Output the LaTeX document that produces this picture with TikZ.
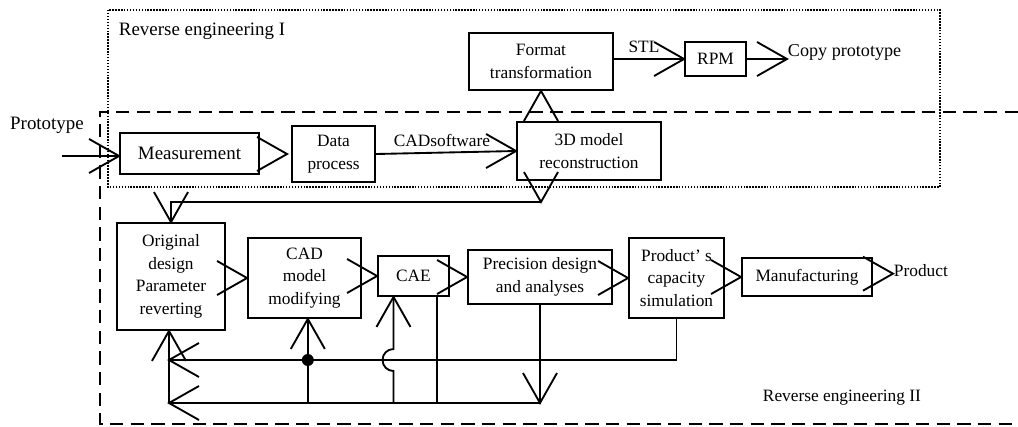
\documentclass[tikz,border=0pt]{standalone}
\usepackage{fontspec}
\setmainfont{Liberation Serif}
\def\px{0.75pt}
\newcommand\myfs{\fontsize{13pt}{17pt}\selectfont}
\newcommand\myfb{\fontsize{14.2pt}{17pt}\selectfont}
\begin{document}
\begin{tikzpicture}[x=0.75pt,y=-0.75pt, line width=1.4pt,
  box/.style={draw, rectangle, inner sep=0pt, align=center, font=\myfs},
  lbl/.style={inner sep=0pt, font=\myfs},
  frameI/.style={line width=1.1pt, dash pattern=on 1.1pt off 1.1pt},
  frameII/.style={line width=1.5pt, dash pattern=on 10pt off 5.5pt},
  pics/arrv/.style={code={\draw[line join=miter] (-30,-17) -- (0,0) -- (-30,17);}}
]
\useasboundingbox (0,0) rectangle (1018,426);

% frames
\draw[frameI] (108,10) rectangle (940,187);
\draw[frameII] (1018,112) -- (100,112) -- (100,424) -- (1018,424);

% labels
\node[lbl, font=\myfb, anchor=west] (re1) at (118,31) {Reverse engineering I};
\node[lbl, anchor=west] (re2) at (762,398) {Reverse engineering II};
\node[lbl, font=\myfb] (proto) at (47,125) {Prototype};

% boxes
\node[box, font=\myfb, minimum width=139*\px, minimum height=41*\px] (meas) at (189.5,153.5) {Measurement};
\node[box, minimum width=83*\px, minimum height=56*\px] (data) at (333.5,154) {Data\\process};
\node[box, minimum width=144*\px, minimum height=58*\px] (recon) at (589,151) {3D model\\reconstruction};
\node[box, minimum width=144*\px, minimum height=57*\px] (format) at (541,61.5) {Format\\transformation};
\node[box, minimum width=61*\px, minimum height=34*\px] (rpm) at (715.5,59) {RPM};
\node[box, minimum width=108*\px, minimum height=107*\px] (orig) at (171,276.5) {Original\\design\\Parameter\\reverting};
\node[box, minimum width=113*\px, minimum height=80*\px] (cad) at (304.5,278) {CAD\\model\\modifying};
\node[box, minimum width=71*\px, minimum height=40*\px] (cae) at (413.5,276) {CAE};
\node[box, minimum width=144*\px, minimum height=54*\px] (prec) at (540,277) {Precision design\\and analyses};
\node[box, minimum width=95*\px, minimum height=80*\px] (cap) at (676.5,278) {Product’ s\\capacity\\simulation};
\node[box, minimum width=130*\px, minimum height=38*\px] (manu) at (807,277) {Manufacturing};

\node[lbl] (cadsw) at (442,140) {CADsoftware};
\node[lbl] (stl) at (644,47) {STL};
\node[lbl, font=\fontsize{13.6pt}{17pt}\selectfont, anchor=west] (copy) at (787,52) {Copy prototype};
\node[lbl, anchor=west] (product) at (893,271) {Product};

% top connectors
\coordinate (pstart) at (62,156);
\draw (pstart) -- (meas.west |- pstart);
\pic at (meas.west |- pstart) {arrv};
\pic at ([xshift=-3pt]data.west) {arrv};
\draw (data.east) -- (recon.west);
\pic at (recon.west) {arrv};
\pic[rotate=90] at (format.south) {arrv};
\draw (rpm.west -| format.east) -- (rpm.west);
\pic at (rpm.west) {arrv};
\draw (rpm.east) -- (rpm.east -| copy.west);
\pic at (rpm.east -| copy.west) {arrv};

% feedback 3D -> original
\coordinate (fb1) at (541,202);
\pic[rotate=-90] at (fb1) {arrv};
\draw (fb1) -- (fb1 -| orig.north) -- (orig.north);
\pic[rotate=-90] at (orig.north) {arrv};

% main chain
\pic at (cad.west) {arrv};
\pic at (cae.west) {arrv};
\pic at (prec.west) {arrv};
\pic at (cap.west) {arrv};
\pic at (manu.west) {arrv};
\pic at ([yshift=-2pt]product.west) {arrv};

% bottom feedback
\coordinate (L1) at (169,360);
\coordinate (L2) at (169,403);
\draw (cap.south) -- (cap.south |- L1) -- (L1);
\pic[rotate=180] at (L1) {arrv};
\draw (prec.south) -- (prec.south |- L2) -- (L2);
\pic[rotate=-90] at (prec.south |- L2) {arrv};
\pic[rotate=180] at (L2) {arrv};
\draw (L2) -- (orig.south -| L2);
\pic[rotate=90] at (orig.south -| L2) {arrv};

\coordinate (cadx) at ([xshift=2.5pt]cad.south);
\draw (cadx |- L2) -- (cadx);
\pic[rotate=90] at (cadx) {arrv};
\fill (cadx |- L1) circle[radius=6];

\coordinate (caeup) at ([xshift=-15pt]cae.south);
\draw (caeup |- L2) -- ([yshift=-8.25pt]caeup |- L1) arc[start angle=90, end angle=270, radius=11] -- (caeup);
\pic[rotate=90] at (caeup) {arrv};

\coordinate (caedn) at ([xshift=17.6pt]cae.south);
\draw[line width=1.4pt] (caedn) -- (caedn |- L2);
\end{tikzpicture}
\end{document}
